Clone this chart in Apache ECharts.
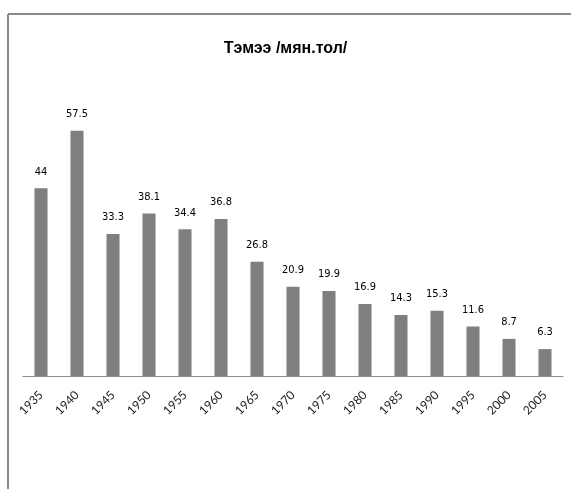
<!DOCTYPE html>
<html style="height: 100%">
<head>
 <meta charset="utf-8">
 <title>Тэмээ</title>
 <script src="https://cdn.jsdelivr.net/npm/echarts@6/dist/echarts.min.js"></script>
</head>
<body style="height: 100%; margin: 0; background: #fff">
 <div id="main" style="width: 571px; height: 489px"></div>
 <script type="text/javascript">
 // years and camel counts (thousand head)
 var years = ['1935', '1940', '1945', '1950', '1955', '1960', '1965', '1970',
 '1975', '1980', '1985', '1990', '1995', '2000', '2005'];
 var camels = [44, 57.5, 33.3, 38.1, 34.4, 36.8, 26.8, 20.9, 19.9, 16.9, 14.3, 15.3, 11.6, 8.7, 6.3];

 var myChart = echarts.init(document.getElementById('main'));

 var option = {
 animation: false,
 title: {
 text: 'Тэмээ /мян.тол/',
 left: 'center',
 top: 36,
 textStyle: {
 fontFamily: 'Liberation Sans',
 fontSize: 16,
 fontWeight: 'bold',
 color: '#000'
 }
 },
 // chart frame (only top and left edges are visible)
 graphic: [
 { type: 'line', shape: { x1: 8, y1: 14, x2: 571, y2: 14 }, style: { stroke: '#8a8a8a', lineWidth: 2 } },
 { type: 'line', shape: { x1: 8, y1: 14, x2: 8, y2: 489 }, style: { stroke: '#8a8a8a', lineWidth: 2 } }
 ],
 grid: {
 left: 23,
 right: 8,
 top: 120,
 bottom: 113
 },
 xAxis: {
 type: 'category',
 data: years,
 axisLine: { lineStyle: { color: '#8c8c8c', width: 1 } },
 axisTick: { length: 5, lineStyle: { color: '#8c8c8c' } },
 axisLabel: {
 rotate: 45,
 margin: 17,
 fontFamily: 'Lato',
 fontSize: 12,
 color: '#222'
 }
 },
 yAxis: {
 type: 'value',
 min: 0,
 max: 60,
 show: false
 },
 series: [
 {
 type: 'bar',
 data: camels,
 barWidth: 13,
 itemStyle: { color: '#7f7f7f' },
 label: {
 show: true,
 position: 'top',
 distance: 11,
 fontFamily: '"Liberation Sans Narrow", "DejaVu Sans Condensed", "Liberation Sans", sans-serif',
 fontSize: 11,
 color: '#000'
 }
 }
 ]
 };

 myChart.setOption(option);
 </script>
</body>
</html>
